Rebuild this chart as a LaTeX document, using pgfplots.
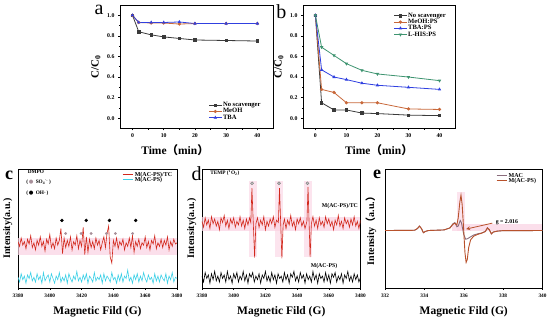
\documentclass[border=0pt]{standalone}
\usepackage{fontspec}
\setmainfont{Liberation Serif}
\newfontfamily\cjk{Noto Sans CJK SC}
\newfontfamily\dejavu{DejaVu Sans}
\usepackage{pgfplots}
\pgfplotsset{compat=1.18}
\definecolor{cNo}{HTML}{3A3A3A}
\definecolor{cMe}{HTML}{C8683A}
\definecolor{cTB}{HTML}{3040E0}
\definecolor{cLH}{HTML}{3E9470}
\definecolor{cRed}{HTML}{D2281C}
\definecolor{cCy}{HTML}{3CD0E6}
\definecolor{cMAC}{HTML}{8A6C7C}
\definecolor{cMAP}{HTML}{B8522C}
\definecolor{cPink}{HTML}{FAD2E2}
\definecolor{cDot}{HTML}{A8909A}
\pgfplotsset{
  base/.style={scale only axis, axis line style={line width=0.9pt},
    every tick/.style={black, line width=0.5pt}, tick align=outside,
    xtick pos=left, ytick pos=left, major tick length=2pt, minor tick length=1.2pt,
    tick label style={font=\bfseries\fontsize{5.3}{6}\selectfont},
    /pgf/number format/assume math mode=true,
    /pgf/number format/set thousands separator={},
    label style={font=\bfseries\fontsize{11.5}{12}\selectfont}},
  kin/.style={base, xmin=-4, xmax=45, ymin=-0.1, ymax=1.1,
    xtick={0,10,20,30,40}, ytick={0,0.2,...,1.0}, minor x tick num=1, minor y tick num=1,
    tick label style={font=\bfseries\fontsize{5.8}{6}\selectfont},
    yticklabel style={/pgf/number format/.cd, fixed, fixed zerofill, precision=1},
    ylabel={C/C\textsubscript{0}},
    xlabel={Time{\cjk （}min{\cjk ）}},
    xlabel style={at={(axis description cs:0.5,-0.1)}, anchor=north},
    ylabel style={font=\bfseries\fontsize{11}{12}\selectfont},
    legend cell align=left,
    legend style={draw=none, fill=none, font=\bfseries\fontsize{6.6}{7}\selectfont,
      row sep=-1.6pt, inner sep=0.5pt, nodes={inner sep=1pt}},
    legend image code/.code={\draw[mark repeat=2,mark phase=2,##1] plot coordinates {(0cm,0cm) (0.22cm,0cm) (0.44cm,0cm)};},
    every axis plot/.append style={line width=0.8pt, mark size=1.2pt}},
  epr/.style={base, ymin=0, ymax=10, ytick=\empty, minor x tick num=1,
    ylabel style={font=\bfseries\fontsize{10}{12}\selectfont, at={(axis description cs:-0.065,0.5)}, anchor=center},
    xlabel style={at={(axis description cs:0.5,-0.13)}, anchor=north},
    legend cell align=left,
    legend style={draw=none, fill=none, font=\bfseries\fontsize{6}{6.5}\selectfont,
      row sep=-2.5pt, inner sep=0.5pt, nodes={inner sep=1pt}},
    legend image code/.code={\draw[##1, line width=0.8pt] (0cm,0cm) -- (0.38cm,0cm);}},
}
\begin{document}
\begin{tikzpicture}[x=1pt,y=1pt]
\useasboundingbox (0,0) rectangle (550,324);
% ---------- a ----------
\begin{axis}[kin, at={(120pt,195.5pt)}, anchor=south west, width=153pt, height=123.5pt,
  xlabel style={at={(axis description cs:0.36,-0.1)}},
  legend style={at={(rel axis cs:0.93,0.05)}, anchor=south east}]
\addplot[cNo, mark=square*] coordinates {(0,1.0)(2,0.84)(6,0.81)(10,0.79)(15,0.775)(20,0.76)(30,0.755)(40,0.75)};
\addplot[cMe, mark=*] coordinates {(0,1.0)(2,0.93)(6,0.925)(10,0.925)(15,0.915)(20,0.92)(30,0.92)(40,0.92)};
\addplot[cTB, mark=triangle*] coordinates {(0,1.0)(2,0.93)(6,0.93)(10,0.93)(15,0.935)(20,0.92)(30,0.92)(40,0.92)};
\legend{No scavenger, MeOH, TBA}
\end{axis}
\node[font=\fontsize{20}{20}\selectfont, anchor=base east] at (107,309) {a};
% ---------- b ----------
\begin{axis}[kin, at={(303pt,195.5pt)}, anchor=south west, width=152pt, height=123.5pt,
  legend style={at={(rel axis cs:0.95,0.95)}, anchor=north east}]
\addplot[cNo, mark=square*] coordinates {(0,1.0)(2,0.15)(6,0.08)(10,0.08)(15,0.05)(20,0.045)(30,0.03)(40,0.025)};
\addplot[cMe, mark=*] coordinates {(0,1.0)(2,0.28)(6,0.25)(10,0.15)(15,0.15)(20,0.15)(30,0.09)(40,0.085)};
\addplot[cTB, mark=triangle*] coordinates {(0,1.0)(2,0.47)(6,0.40)(10,0.375)(15,0.34)(20,0.32)(30,0.30)(40,0.28)};
\addplot[cLH, mark=triangle*, mark options={rotate=180}] coordinates {(0,1.0)(2,0.69)(6,0.61)(10,0.53)(15,0.465)(20,0.43)(30,0.40)(40,0.365)};
\legend{No scavenger, MeOH:PS, TBA:PS, L-HIS:PS}
\end{axis}
\node[font=\fontsize{20}{20}\selectfont, anchor=base east] at (290,305) {b};
% ---------- c ----------
\begin{axis}[epr, at={(18pt,36pt)}, anchor=south west, width=159pt, height=119pt,
  xmin=3380, xmax=3480, xtick={3380,3400,...,3480},
  xlabel={Magnetic Fild (G)}, ylabel={Intensity(a.u.)},
  legend style={at={(rel axis cs:0.98,0.99)}, anchor=north east}]
\fill[cPink, opacity=0.7] (axis cs:3380,2.8) rectangle (axis cs:3480,4.2);
\addplot[cRed, line width=0.6pt] coordinates {(3380,3.9)(3381,3.5)(3382,4.2)(3383,3.6)(3384,3.9)(3385,3.3)(3386,4.1)(3387,3.7)(3388,4.4)(3389,3.4)(3390,3.8)(3391,3.2)(3392,4.0)(3393,3.6)(3394,4.3)(3395,3.5)(3396,3.9)(3397,3.1)(3398,4.1)(3399,3.7)(3400,4.5)(3401,3.4)(3402,3.8)(3403,3.3)(3404,4.2)(3405,3.6)(3406,4.0)(3407,5.0)(3408,2.9)(3409,4.2)(3410,3.4)(3411,4.0)(3412,3.5)(3413,4.3)(3414,3.2)(3415,3.9)(3416,3.6)(3417,4.4)(3418,3.3)(3419,4.0)(3420,3.5)(3421,5.1)(3422,2.8)(3423,4.3)(3424,3.0)(3425,4.1)(3426,3.4)(3427,3.9)(3428,3.3)(3429,4.2)(3430,3.6)(3431,4.0)(3432,3.2)(3433,3.8)(3434,4.3)(3435,3.4)(3436,4.6)(3437,5.2)(3438,2.6)(3439,2.1)(3440,4.0)(3441,3.5)(3442,4.2)(3443,3.3)(3444,3.9)(3445,3.6)(3446,4.1)(3447,3.2)(3448,3.8)(3449,3.5)(3450,4.2)(3451,3.4)(3452,4.4)(3453,3.0)(3454,3.9)(3455,3.5)(3456,4.1)(3457,3.3)(3458,3.8)(3459,3.6)(3460,4.3)(3461,3.4)(3462,3.9)(3463,3.2)(3464,4.0)(3465,3.7)(3466,4.4)(3467,3.3)(3468,3.8)(3469,3.5)(3470,4.1)(3471,3.4)(3472,4.0)(3473,3.6)(3474,4.3)(3475,3.2)(3476,3.9)(3477,3.5)(3478,4.1)(3479,3.7)(3480,3.8)};
\addplot[cCy, line width=0.6pt] coordinates {(3380,0.9)(3381,0.5)(3382,1.2)(3383,0.7)(3384,1.0)(3385,0.4)(3386,1.1)(3387,0.8)(3388,1.3)(3389,0.6)(3390,0.9)(3391,0.5)(3392,1.2)(3393,0.7)(3394,1.0)(3395,0.4)(3396,1.3)(3397,0.6)(3398,0.9)(3399,1.1)(3400,0.5)(3401,1.2)(3402,0.8)(3403,0.4)(3404,1.0)(3405,0.7)(3406,1.3)(3407,0.5)(3408,0.9)(3409,0.6)(3410,1.1)(3411,0.4)(3412,1.2)(3413,0.8)(3414,0.5)(3415,1.0)(3416,0.7)(3417,1.4)(3418,0.6)(3419,0.9)(3420,0.5)(3421,1.1)(3422,0.7)(3423,1.2)(3424,0.4)(3425,1.0)(3426,0.8)(3427,0.5)(3428,1.3)(3429,0.6)(3430,0.9)(3431,0.7)(3432,1.1)(3433,0.4)(3434,1.2)(3435,0.6)(3436,1.0)(3437,0.8)(3438,0.5)(3439,1.3)(3440,0.7)(3441,0.9)(3442,0.4)(3443,1.1)(3444,0.6)(3445,1.2)(3446,0.5)(3447,1.0)(3448,0.8)(3449,1.5)(3450,0.6)(3451,0.9)(3452,0.4)(3453,1.1)(3454,0.7)(3455,1.2)(3456,0.5)(3457,1.0)(3458,0.6)(3459,1.3)(3460,0.8)(3461,0.5)(3462,1.1)(3463,0.7)(3464,0.9)(3465,0.4)(3466,1.2)(3467,0.6)(3468,1.0)(3469,0.5)(3470,1.1)(3471,0.8)(3472,0.6)(3473,1.2)(3474,0.4)(3475,1.0)(3476,0.7)(3477,1.3)(3478,0.5)(3479,0.9)(3480,0.8)};
\addplot[only marks, mark=*, mark size=1.5pt, black, forget plot] coordinates {(3407.6,5.68)(3422.9,5.68)(3437.5,5.68)(3454,5.68)};
\addplot[only marks, mark=*, mark size=1.2pt, draw=cDot, fill=cDot, forget plot] coordinates {(3410,4.58)(3419.7,4.58)(3426,4.58)(3435.6,4.58)(3441.3,4.58)(3452.1,4.58)};
\legend{M(AC-PS)/TC, M(AC-PS)}
\node[anchor=west, font=\bfseries\fontsize{5.3}{6}\selectfont] at (axis cs:3384,9.8) {DMPO};
\node[anchor=west, font=\bfseries\fontsize{5.3}{6}\selectfont] at (axis cs:3383,8.85) {(\,{\color{cDot}\dejavu ●}\, SO\textsubscript{4}\textsuperscript{·-}\,)};
\node[anchor=west, font=\bfseries\fontsize{5.3}{6}\selectfont] at (axis cs:3383,7.95) {(\,{\dejavu ●}\, OH·\,)};
\end{axis}
\node[font=\bfseries\fontsize{18}{18}\selectfont, anchor=base] at (9,144) {c};
% ---------- d ----------
\begin{axis}[epr, at={(202pt,36pt)}, anchor=south west, width=158.5pt, height=119pt,
  xmin=3380, xmax=3480, xtick={3380,3400,...,3480},
  xlabel={Magnetic Fild (G)}, ylabel={Intensity(a.u.)}]
\fill[cPink, opacity=0.7] (axis cs:3380,4.75) rectangle (axis cs:3480,6.0);
\fill[cPink, opacity=0.6] (axis cs:3409.5,2.6) rectangle (axis cs:3414.5,9.0);
\fill[cPink, opacity=0.6] (axis cs:3426,2.6) rectangle (axis cs:3431,9.0);
\fill[cPink, opacity=0.6] (axis cs:3444.5,2.6) rectangle (axis cs:3449.5,9.0);
\addplot[cRed, line width=0.6pt] coordinates {(3380,5.6)(3381,5.1)(3382,5.9)(3383,5.3)(3384,5.7)(3385,5.0)(3386,6.0)(3387,5.4)(3388,5.8)(3389,5.2)(3390,5.6)(3391,4.9)(3392,5.9)(3393,5.5)(3394,6.1)(3395,5.2)(3396,5.7)(3397,5.0)(3398,5.8)(3399,5.4)(3400,5.9)(3401,5.1)(3402,5.6)(3403,5.3)(3404,6.0)(3405,5.2)(3406,5.7)(3407,5.0)(3408,5.8)(3409,5.3)(3410,5.9)(3410.8,5.5)(3411.5,8.4)(3413.2,2.55)(3414,5.4)(3415,5.9)(3416,5.1)(3417,5.7)(3418,5.3)(3419,6.0)(3420,4.9)(3421,5.6)(3422,5.2)(3423,5.8)(3424,5.4)(3425,6.0)(3426,5.1)(3427,5.7)(3428.2,5.5)(3428.9,8.4)(3430.4,2.5)(3431.2,5.3)(3432,5.8)(3433,5.0)(3434,5.7)(3435,5.3)(3436,6.1)(3437,5.2)(3438,5.6)(3439,4.9)(3440,5.8)(3441,5.4)(3442,5.9)(3443,5.2)(3444,5.6)(3445,5.0)(3446.2,5.6)(3446.9,8.5)(3448.2,2.6)(3449,5.4)(3450,6.0)(3451,5.2)(3452,5.7)(3453,5.0)(3454,5.9)(3455,5.3)(3456,5.6)(3457,5.1)(3458,6.0)(3459,5.4)(3460,5.8)(3461,5.2)(3462,5.6)(3463,4.9)(3464,5.7)(3465,5.3)(3466,6.1)(3467,5.2)(3468,5.6)(3469,5.0)(3470,5.9)(3471,5.4)(3472,5.7)(3473,5.1)(3474,5.8)(3475,5.3)(3476,6.0)(3477,5.2)(3478,5.6)(3479,5.0)(3480,5.7)};
\addplot[black, line width=0.6pt] coordinates {(3380,1.0)(3381,0.5)(3382,1.3)(3383,0.8)(3384,1.1)(3385,0.4)(3386,1.2)(3387,0.7)(3388,1.4)(3389,0.6)(3390,1.0)(3391,0.5)(3392,1.3)(3393,0.8)(3394,1.1)(3395,0.5)(3396,1.4)(3397,0.7)(3398,1.0)(3399,0.4)(3400,1.2)(3401,0.8)(3402,1.3)(3403,0.5)(3404,1.0)(3405,0.7)(3406,1.4)(3407,0.6)(3408,1.1)(3409,0.4)(3410,1.2)(3411,0.9)(3412,1.3)(3413,0.5)(3414,1.0)(3415,0.7)(3416,1.2)(3417,0.4)(3418,1.1)(3419,0.8)(3420,1.4)(3421,0.6)(3422,1.0)(3423,0.5)(3424,1.3)(3425,0.7)(3426,1.1)(3427,0.4)(3428,1.2)(3429,0.8)(3430,1.0)(3431,0.5)(3432,1.3)(3433,0.7)(3434,1.1)(3435,0.4)(3436,1.2)(3437,0.9)(3438,1.4)(3439,0.6)(3440,1.0)(3441,0.5)(3442,1.3)(3443,0.8)(3444,1.1)(3445,0.4)(3446,1.2)(3447,0.7)(3448,1.0)(3449,0.5)(3450,1.4)(3451,0.7)(3452,1.1)(3453,0.4)(3454,1.2)(3455,0.8)(3456,1.0)(3457,0.5)(3458,1.3)(3459,0.6)(3460,1.1)(3461,0.4)(3462,1.2)(3463,0.9)(3464,1.3)(3465,0.5)(3466,1.0)(3467,0.7)(3468,1.2)(3469,0.4)(3470,1.1)(3471,0.8)(3472,1.4)(3473,0.6)(3474,1.0)(3475,0.5)(3476,1.2)(3477,0.7)(3478,1.1)(3479,0.5)(3480,0.9)};
\addplot[only marks, mark=*, mark size=1.5pt, draw=gray, fill=gray!45, line width=0.5pt, forget plot] coordinates {(3411.6,8.8)(3428.6,8.8)(3446.5,8.8)};
\node[anchor=west, font=\bfseries\fontsize{5.3}{6}\selectfont] at (axis cs:3383,9.7) {TEMP (\textsuperscript{1}O\textsubscript{2})};
\node[font=\bfseries\fontsize{5.8}{6}\selectfont] at (axis cs:3467,6.85) {M(AC-PS)/TC};
\node[font=\bfseries\fontsize{5.8}{6}\selectfont] at (axis cs:3457,1.8) {M(AC-PS)};
\end{axis}
\node[font=\fontsize{20}{20}\selectfont, anchor=base] at (196.5,143) {d};
% ---------- e ----------
\begin{axis}[epr, at={(385pt,36pt)}, anchor=south west, width=157.5pt, height=119pt,
  xmin=332, xmax=340, xtick={332,334,...,340},
  xlabel={Magnetic Fild (G)}, ylabel={Intensity{\cjk （}a.u.{\cjk ）}},
  ylabel style={at={(axis description cs:-0.09,0.5)}},
  legend style={at={(rel axis cs:0.97,0.98)}, anchor=north east}]
\fill[cPink, opacity=0.7] (axis cs:335.4,4.75) rectangle (axis cs:340,5.4);
\fill[cPink, opacity=0.6] (axis cs:335.65,4.75) rectangle (axis cs:336.05,8.1);
\addplot[cMAC, line width=0.9pt] coordinates {(332,4.83)(333.5,4.85)(333.65,5.0)(333.75,5.2)(333.85,5.0)(333.95,4.65)(334.05,4.75)(334.2,4.83)(335.0,4.88)(335.3,5.05)(335.45,5.4)(335.55,5.5)(335.65,5.15)(335.72,5.2)(335.82,5.68)(335.88,5.5)(336.0,4.5)(336.1,4.1)(336.2,4.15)(336.35,4.3)(336.5,4.45)(336.7,4.55)(336.9,4.62)(337.1,4.75)(337.2,5.05)(337.3,4.9)(337.4,4.55)(337.5,4.7)(337.7,4.78)(338,4.82)(340,4.83)};
\addplot[cMAP, line width=0.9pt] coordinates {(332,4.83)(333.5,4.85)(333.65,5.0)(333.75,5.2)(333.85,5.0)(333.95,4.65)(334.05,4.75)(334.2,4.83)(335.0,4.88)(335.3,5.05)(335.45,5.35)(335.55,5.45)(335.65,5.3)(335.72,5.9)(335.8,7.2)(335.86,7.8)(335.92,7.0)(336.0,4.8)(336.06,3.0)(336.12,2.15)(336.18,2.4)(336.25,3.4)(336.35,4.05)(336.5,4.35)(336.7,4.5)(336.9,4.6)(337.1,4.75)(337.2,5.05)(337.3,4.9)(337.4,4.55)(337.5,4.7)(337.7,4.78)(338,4.82)(340,4.83)};
\legend{MAC, M(AC-PS)}
\draw[cMAP, line width=0.8pt, -stealth] (axis cs:337.45,5.45) -- (axis cs:336.12,4.95);
\node[anchor=west, font=\bfseries\fontsize{5.8}{6}\selectfont] at (axis cs:337.45,5.55) {g = 2.016};
\end{axis}
\node[font=\bfseries\fontsize{18}{18}\selectfont, anchor=base] at (377,145) {e};
\end{tikzpicture}
\end{document}
